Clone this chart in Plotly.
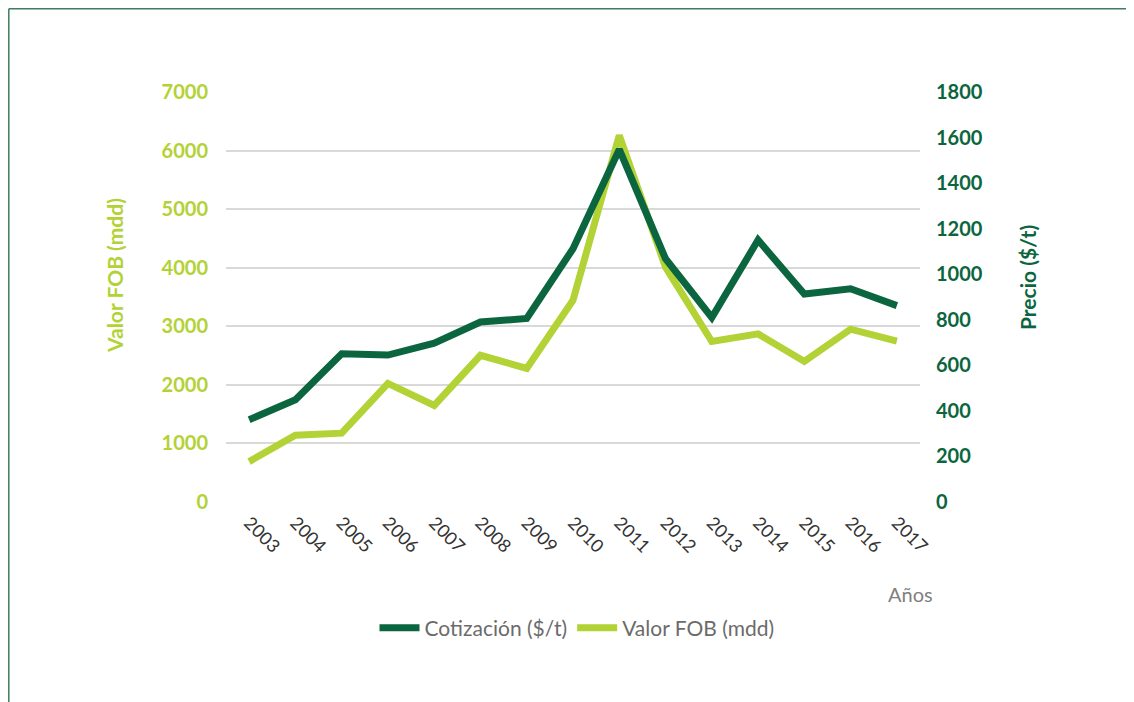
import plotly.graph_objects as go

years = ["2003", "2004", "2005", "2006", "2007", "2008", "2009", "2010",
         "2011", "2012", "2013", "2014", "2015", "2016", "2017"]
cotizacion = [361, 449, 651, 645, 697, 790, 806, 1112, 1548, 1068, 810, 1150, 913, 936, 862]
valor_fob = [690, 1140, 1175, 2025, 1650, 2505, 2280, 3445, 6260, 4010, 2740, 2870, 2400, 2950, 2745]

DARK = "#0b6640"
LIGHT = "#b2d235"
FONT = "Lato"

fig = go.Figure()
fig.add_trace(go.Scatter(x=years, y=cotizacion, name="Cotización ($/t)", mode="lines",
                         line=dict(color=DARK, width=7), yaxis="y2"))
fig.add_trace(go.Scatter(x=years, y=valor_fob, name="Valor FOB (mdd)", mode="lines",
                         line=dict(color=LIGHT, width=7), yaxis="y"))

OFF = 8  # page body margin
W, H = 1134 - OFF, 702 - OFF
# plot area in window pixels
WL, WR, WT, WB = 226, 920, 92, 502
L, R, T, B = WL - OFF, WR - OFF, WT - OFF, WB - OFF

def px_x(px):
    return (px - OFF - L) / (R - L)

def px_y(py):
    return (B - (py - OFF)) / (B - T)

fig.update_layout(
    width=W, height=H,
    margin=dict(l=L, r=W - R, t=T, b=H - B),
    paper_bgcolor="white", plot_bgcolor="white",
    font=dict(family=FONT),
    showlegend=True,
    legend=dict(orientation="h", x=px_x(577), xanchor="center", y=px_y(628), yanchor="middle",
                font=dict(size=21, color="#6b6b6b", family=FONT), itemwidth=40,
                traceorder="normal"),
    xaxis=dict(type="category", range=[-0.5, 14.5], showgrid=False, showline=False,
               zeroline=False, ticks="", tickangle=45, ticklabelstandoff=6,
               tickfont=dict(size=18, color="#333333", family=FONT)),
    yaxis=dict(range=[0, 7000], tickvals=[0, 1000, 2000, 3000, 4000, 5000, 6000, 7000],
               showgrid=True, gridcolor="#d9d9d9", gridwidth=2, zeroline=False,
               showline=False, ticks="", ticklabelstandoff=17,
               tickfont=dict(size=20, color=LIGHT, family=FONT, weight="bold")),
    yaxis2=dict(range=[0, 1800], tickvals=list(range(0, 1801, 200)), overlaying="y",
                side="right", showgrid=False, zeroline=False, showline=False, ticks="",
                ticklabelstandoff=15,
                tickfont=dict(size=20, color=DARK, family=FONT, weight="bold")),
    annotations=[
        dict(text="Años", x=px_x(910), y=px_y(594), xref="paper", yref="paper",
             xanchor="center", yanchor="middle",
             showarrow=False, font=dict(size=20, color="#7f7f7f", family=FONT)),
        dict(text="<b>Valor FOB (mdd)</b>", x=px_x(114), y=px_y(276), xref="paper", yref="paper",
             xanchor="center", yanchor="middle", textangle=-90,
             showarrow=False, font=dict(size=21, color=LIGHT, family=FONT)),
        dict(text="<b>Precio ($/t)</b>", x=px_x(1027), y=px_y(278), xref="paper", yref="paper",
             xanchor="center", yanchor="middle", textangle=-90,
             showarrow=False, font=dict(size=21, color=DARK, family=FONT)),
    ],
    shapes=[
        dict(type="line", xref="paper", yref="paper", x0=px_x(8.8), x1=px_x(8.8),
             y0=px_y(8.8), y1=px_y(720), line=dict(color="#3a7f5f", width=1.5)),
        dict(type="line", xref="paper", yref="paper", x0=px_x(8.8), x1=px_x(1140),
             y0=px_y(8.8), y1=px_y(8.8), line=dict(color="#3a7f5f", width=1.5)),
    ],
)

fig.write_html("out.html")
